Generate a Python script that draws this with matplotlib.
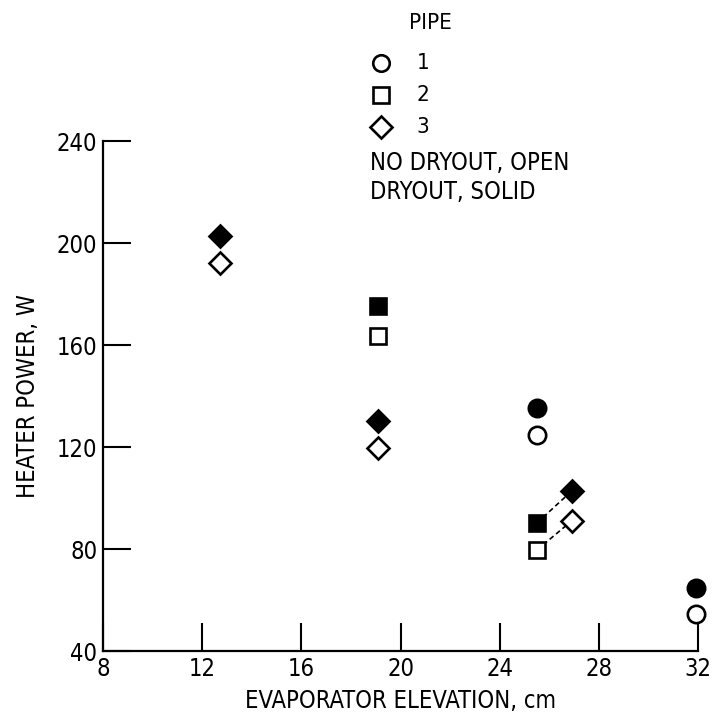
import numpy as np
import matplotlib.pyplot as plt
from matplotlib.lines import Line2D

plt.rcParams['font.family'] = ['DejaVu Sans']
plt.rcParams['font.stretch'] = 'condensed'

# evaporator elevation (cm) and heater power (W)
pipe1_x = [25.5, 31.9]
pipe1_open = [124.7, 54.5]
pipe1_solid = [135.3, 64.7]

pipe2_x = [19.1, 25.5]
pipe2_open = [163.5, 79.6]
pipe2_solid = [175.3, 90.2]

pipe3_x = [12.7, 19.1, 26.9]
pipe3_open = [192.2, 119.6, 91.0]
pipe3_solid = [202.7, 130.2, 102.7]

xticks = [8, 12, 16, 20, 24, 28, 32]
yticks = [40, 80, 120, 160, 200, 240]

fig = plt.figure(figsize=(7.16, 7.2), dpi=100)
ax = fig.add_axes([0.1439, 0.0958, 0.8310, 0.7083])

ms = {'o': 12.5, 's': 12, 'D': 11.5}
series = [
    ('o', pipe1_x, pipe1_open, pipe1_solid),
    ('s', pipe2_x, pipe2_open, pipe2_solid),
    ('D', pipe3_x, pipe3_open, pipe3_solid),
]
for m, xs, yo, ys in series:
    ax.plot(xs, yo, ls='none', marker=m, ms=ms[m], mfc='white', mec='black',
            mew=1.9, clip_on=False, zorder=3)
    ax.plot(xs, ys, ls='none', marker=m, ms=ms[m], mfc='black', mec='black',
            mew=1.9, clip_on=False, zorder=3)

# dashed connectors between pipe 2 and pipe 3 near 26 cm
ax.plot([pipe2_x[1], pipe3_x[2]], [pipe2_solid[1], pipe3_solid[2]], 'k--', lw=1.2,
        dashes=(3, 2), zorder=2)
ax.plot([pipe2_x[1], pipe3_x[2]], [pipe2_open[1], pipe3_open[2]], 'k--', lw=1.2,
        dashes=(3, 2), zorder=2)

ax.set_xlim(8, 32)
ax.set_ylim(40, 240)
ax.set_xticks(xticks)
ax.set_yticks(yticks)
ax.tick_params(direction='in', length=20, width=1.5, labelsize=17)
ax.tick_params(axis='x', pad=4)
ax.tick_params(axis='y', pad=4)
for s in ['top', 'right']:
    ax.spines[s].set_visible(False)
for s in ['left', 'bottom']:
    ax.spines[s].set_linewidth(1.6)
ax.set_xlabel('EVAPORATOR ELEVATION, cm', fontsize=17, labelpad=6)
ax.set_ylabel('HEATER POWER, W', fontsize=17, labelpad=12)

# legend drawn at the top of the figure
fig.text(430 / 716, 1 - 23 / 720, 'PIPE', fontsize=16, ha='center', va='center')
for i, m in enumerate(['o', 's', 'D']):
    yy = 1 - (63 + 32 * i) / 720
    fig.add_artist(Line2D([381 / 716], [yy], marker=m, ms=ms[m] * 0.95, mfc='white',
                          mec='black', mew=1.9, ls='none', transform=fig.transFigure))
    fig.text(423 / 716, yy, str(i + 1), fontsize=16, ha='center', va='center')
fig.text(370 / 716, 1 - 163 / 720, 'NO DRYOUT, OPEN', fontsize=17, ha='left', va='center')
fig.text(370 / 716, 1 - 192 / 720, 'DRYOUT, SOLID', fontsize=17, ha='left', va='center')

fig.savefig('out.png', dpi=100)
